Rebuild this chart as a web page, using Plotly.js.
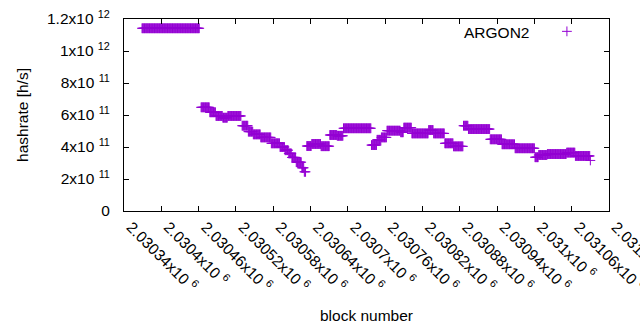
<!DOCTYPE html>
<html>
<head>
<meta charset="utf-8">
<script src="https://cdn.plot.ly/plotly-3.0.1.min.js"></script>
<style>html,body{margin:0;padding:0;background:#fff;}#chart{width:640px;height:330px;}</style>
</head>
<body>
<div id="chart"></div>
<script>
// Runs of blocks with a constant hashrate: first block, last block, hashrate [h/s]
const segStart = [2030369,2030464,2030478,2030488,2030499,2030507,2030530,2030540,2030548,2030560,2030577,2030591,2030599,2030605,2030610,2030617,2030626,2030630,2030634,2030642,2030657,2030671,2030683,2030693,2030738,2030747,2030754,2030763,2030785,2030790,2030803,2030830,2030838,2030856,2030870,2030886,2030894,2030929,2030948,2030969,2031001,2031007,2031021,2031052,2031066,2031090];
const segEnd   = [2030461,2030477,2030487,2030498,2030506,2030528,2030539,2030547,2030559,2030576,2030590,2030598,2030604,2030609,2030616,2030625,2030629,2030632,2030641,2030656,2030670,2030682,2030692,2030737,2030746,2030753,2030762,2030784,2030789,2030802,2030829,2030837,2030855,2030869,2030885,2030893,2030928,2030947,2030968,2031000,2031006,2031020,2031051,2031065,2031089,2031090];
const segRate  = [1.142e12,6.48e11,6.17e11,5.94e11,5.83e11,5.94e11,5.33e11,4.96e11,4.79e11,4.60e11,4.23e11,4.00e11,3.80e11,3.60e11,3.35e11,3.05e11,2.70e11,2.45e11,4.06e11,4.19e11,4.05e11,4.75e11,4.70e11,5.17e11,4.12e11,4.45e11,4.60e11,5.02e11,4.92e11,5.21e11,4.85e11,5.06e11,4.85e11,4.23e11,4.04e11,5.33e11,5.12e11,4.48e11,4.17e11,3.92e11,3.36e11,3.50e11,3.56e11,3.65e11,3.44e11,3.16e11];

const xTickVals = [2030340,2030400,2030460,2030520,2030580,2030640,2030700,2030760,2030820,2030880,2030940,2031000,2031060,2031120];
const xTickMant = ['2.03034','2.0304','2.03046','2.03052','2.03058','2.03064','2.0307','2.03076','2.03082','2.03088','2.03094','2.031','2.03106','2.03112'];
const yTickVals = [0,2e11,4e11,6e11,8e11,1e12,1.2e12];
const yTickText = ['0','2x10 <sup>11</sup>','4x10 <sup>11</sup>','6x10 <sup>11</sup>','8x10 <sup>11</sup>','1x10 <sup>12</sup>','1.2x10 <sup>12</sup>'];

const xs = [], ys = [];
for (let i = 0; i < segStart.length; i++) {
  for (let b = segStart[i]; b <= segEnd[i]; b++) { xs.push(b); ys.push(segRate[i]); }
}

const FONT = 'Liberation Sans, Arial, sans-serif';
const COLOR = '#9400D3';

const trace = {
  x: xs, y: ys, type: 'scatter', mode: 'markers', name: ' ',
  marker: {symbol: 'cross-thin', size: 7, color: COLOR, line: {color: COLOR, width: 1}},
  showlegend: true, hoverinfo: 'skip'
};

const layout = {
  width: 640, height: 330,
  margin: {l: 124, r: 31, t: 19, b: 119, pad: 0},
  paper_bgcolor: '#fff', plot_bgcolor: '#fff',
  font: {family: FONT, size: 15.5, color: '#000'},
  showlegend: true,
  legend: {x: 0.872, y: 1.022, xanchor: 'left', yanchor: 'top', bgcolor: 'rgba(0,0,0,0)', font: {size: 15.5}},
  annotations: [{
    xref: 'paper', yref: 'paper', x: (531 - 124) / 485, y: 1 - (32 - 19) / 192,
    xanchor: 'right', yanchor: 'middle', text: 'ARGON2', showarrow: false,
    font: {family: FONT, size: 15.5, color: '#000'}
  }],
  xaxis: {
    range: [2030340, 2031120], showgrid: false, zeroline: false,
    showline: true, linecolor: '#000', linewidth: 1, mirror: 'ticks',
    ticks: 'inside', ticklen: 5, tickcolor: '#000', tickwidth: 1,
    tickmode: 'array', tickvals: xTickVals,
    ticktext: xTickMant.map(m => m + 'x10 <sup>6</sup>'),
    tickangle: 45, ticklabelstandoff: 0, ticklabelshift: 7, ticklabeloverflow: 'allow',
    tickfont: {family: FONT, size: 15.5, color: '#000'},
    title: {text: 'block number', font: {family: FONT, size: 15.5, color: '#000'}, standoff: 16},
    automargin: false
  },
  yaxis: {
    range: [0, 1.2e12], showgrid: false, zeroline: false,
    showline: true, linecolor: '#000', linewidth: 1, mirror: 'ticks',
    ticks: 'inside', ticklen: 5, tickcolor: '#000', tickwidth: 1,
    tickmode: 'array', tickvals: yTickVals, ticktext: yTickText,
    ticklabelstandoff: 10,
    tickfont: {family: FONT, size: 15.5, color: '#000'},
    title: {text: 'hashrate [h/s]', font: {family: FONT, size: 15.5, color: '#000'}, standoff: 14},
    automargin: false
  }
};

Plotly.newPlot('chart', [trace], layout, {displayModeBar: false, staticPlot: true});
</script>
</body>
</html>
